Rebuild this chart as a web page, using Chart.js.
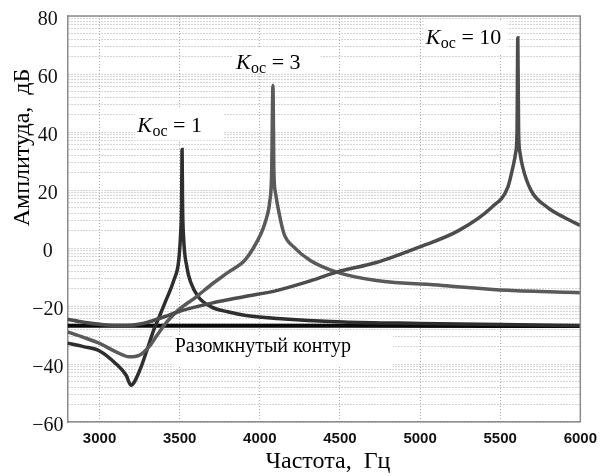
<!DOCTYPE html>
<html>
<head>
<meta charset="utf-8">
<script src="https://cdn.jsdelivr.net/npm/chart.js@4.4.1/dist/chart.umd.min.js"></script>
<style>
html,body{margin:0;padding:0;background:#fff;}
canvas{display:block;}
</style>
</head>
<body>
<canvas id="c" width="605" height="476"></canvas>
<script>
// ---------------- data ----------------
const openLoopFreq = [2800, 3500, 4500, 6000];
const openLoopAmp  = [-26.8, -26.8, -26.8, -26.9];

const k1Freq = [2800, 2900, 3000, 3100, 3165, 3196, 3247, 3309, 3340, 3370, 3411, 3463, 3494, 3506, 3512, 3515, 3518, 3524, 3545, 3570, 3617, 3697, 3800, 3905, 4110, 4521, 5000, 5500, 6000];
const k1Amp  = [-32.8, -34.0, -35.5, -39.8, -43.8, -47.3, -42.7, -33.0, -28.0, -24.0, -18.5, -11.2, -4.3, 5.0, 15.0, 34.0, 15.0, 4.0, -6.6, -12.0, -16.9, -20.3, -22.0, -23.2, -24.3, -25.5, -26.0, -26.4, -26.7];

const k3Freq = [2800, 2900, 3000, 3103, 3185, 3247, 3309, 3360, 3420, 3500, 3600, 3700, 3800, 3905, 3960, 4007, 4040, 4062, 4074, 4082, 4088, 4098, 4115, 4151, 4213, 4315, 4480, 4727, 5138, 5547, 6000];
const k3Amp  = [-28.9, -30.8, -32.9, -35.8, -37.5, -37.0, -34.0, -30.0, -25.5, -21.0, -17.0, -12.5, -8.5, -4.3, 0.0, 4.9, 10.0, 16.0, 26.0, 56.0, 26.0, 19.0, 13.5, 4.9, 0.3, -4.3, -8.3, -11.2, -12.9, -14.6, -15.4];

const k10Freq = [2800, 2900, 3000, 3100, 3200, 3300, 3400, 3500, 3700, 3900, 4110, 4300, 4480, 4727, 4994, 5240, 5446, 5548, 5579, 5597, 5605, 5610, 5615, 5623, 5641, 5693, 5795, 5900, 6000];
const k10Amp  = [-24.6, -25.6, -26.3, -26.7, -26.6, -25.6, -23.8, -21.8, -19.0, -16.8, -14.6, -11.6, -8.3, -5.0, 0.3, 6.0, 14.0, 21.0, 27.8, 33.0, 40.0, 72.5, 40.0, 33.0, 27.8, 19.8, 14.0, 10.5, 7.8];

const gainValues   = ['1', '3', '10'];
const xTickValues  = [3000, 3500, 4000, 4500, 5000, 5500, 6000];
const yMajorTicks  = [-60, -40, -20, 0, 20, 40, 60, 80];

// ---------------- helpers ----------------
function pts(xs, ys){ return xs.map((x,i)=>({x:x, y:ys[i]})); }

const yAllTicks = [];
for (let i = 0; i < yMajorTicks.length; i++) {
  const m = yMajorTicks[i];
  yAllTicks.push({value:m, major:true});
  if (i < yMajorTicks.length - 1) {
    const step = yMajorTicks[i+1] - m;
    for (let k = 2; k <= 9; k++) yAllTicks.push({value: m + step*Math.log10(k), major:false});
  }
}
function fmtY(v){ return v < 0 ? '\u2212' + Math.abs(v) : String(v); }

const SERIF = '"Liberation Serif"';
const SANS = '"Liberation Sans"';

const gainLabelCfg = [
  {f:3235, a:40.0, box:{l:2, r:21, t:24.7, b:8.3}},
  {f:3851, a:61.8, box:{l:3, r:20, t:20, b:4}},
  {f:5035, a:70.5, box:{l:2, r:6, t:22.7, b:10.3}}
];
const openLabelCfg = {f:3469, a:-35.8, box:{l:1, r:42, t:16.7, b:15.3}, text:'Разомкнутый контур'};

const overlayPlugin = {
  id:'overlay',
  afterDraw(chart){
    const {ctx, chartArea:a, scales:{x, y}} = chart;
    ctx.save();
    ctx.strokeStyle = '#8c8c8c';
    ctx.lineWidth = 1.5;
    ctx.setLineDash([]);
    ctx.beginPath();
    ctx.moveTo(a.left, a.top); ctx.lineTo(a.right, a.top); ctx.lineTo(a.right, a.bottom);
    ctx.stroke();

    ctx.textAlign = 'left';
    ctx.textBaseline = 'alphabetic';
    gainLabelCfg.forEach((c, i) => {
      const px = x.getPixelForValue(c.f), py = y.getPixelForValue(c.a);
      ctx.font = 'italic 22px ' + SERIF; const wK = ctx.measureText('K').width + 0.5;
      ctx.font = '16px ' + SERIF; const wS = ctx.measureText('oc').width;
      const rest = ' = ' + gainValues[i];
      ctx.font = '22px ' + SERIF; const wR = ctx.measureText(rest).width;
      ctx.fillStyle = '#fff';
      ctx.fillRect(px - c.box.l, py - c.box.t, wK + wS + wR + c.box.l + c.box.r, c.box.t + c.box.b);
      ctx.fillStyle = '#000';
      ctx.font = 'italic 22px ' + SERIF; ctx.fillText('K', px, py);
      ctx.font = '16px ' + SERIF; ctx.fillText('oc', px + wK, py + 4);
      ctx.font = '22px ' + SERIF; ctx.fillText(rest, px + wK + wS, py);
    });
    {
      const c = openLabelCfg;
      const px = x.getPixelForValue(c.f), py = y.getPixelForValue(c.a);
      ctx.font = '20px ' + SERIF;
      const w = ctx.measureText(c.text).width;
      ctx.fillStyle = '#fff';
      ctx.fillRect(px - c.box.l, py - c.box.t, w + c.box.l + c.box.r, c.box.t + c.box.b);
      ctx.fillStyle = '#000';
      ctx.fillText(c.text, px, py);
    }
    ctx.fillStyle = '#000';
    ctx.font = '24px ' + SERIF;
    ctx.textAlign = 'center';
    ctx.fillText('Частота,  Гц', (a.left + a.right)/2 + 4, 468);
    ctx.translate(23, 147.5);
    ctx.rotate(-Math.PI/2);
    ctx.textBaseline = 'middle';
    ctx.fillText('Амплитуда,  дБ', 0, 0);
    ctx.restore();
  }
};

const lineStyle = (color, width) => ({
  borderColor: color, backgroundColor: color, borderWidth: width,
  pointRadius: 0, pointHoverRadius: 0, fill: false, cubicInterpolationMode: 'monotone'
});

new Chart(document.getElementById('c'), {
  type: 'line',
  data: {
    datasets: [
      Object.assign({label:'K=10', data: pts(k10Freq, k10Amp)}, lineStyle('#4c4c4c', 3.5)),
      Object.assign({label:'K=3',  data: pts(k3Freq, k3Amp)},  lineStyle('#5a5a5a', 3.5)),
      Object.assign({label:'K=1',  data: pts(k1Freq, k1Amp)},  lineStyle('#2e2e2e', 3.5)),
      Object.assign({label:'open', data: pts(openLoopFreq, openLoopAmp)}, lineStyle('#0a0a0a', 4))
    ]
  },
  options: {
    responsive: false,
    devicePixelRatio: 1,
    animation: false,
    layout: {padding: {left: 0, right: 18, top: 15, bottom: 0}},
    plugins: {legend: {display: false}, tooltip: {enabled: false}},
    scales: {
      x: {
        type: 'linear', min: 2800, max: 6000,
        afterBuildTicks: s => { s.ticks = xTickValues.map(v => ({value: v})); },
        afterFit: s => { s.height = 54; },
        ticks: {color: '#111', font: {family: SANS, size: 15, weight: 'bold'}, padding: 8, maxRotation: 0, autoSkip: false,
                callback: v => String(v)},
        grid: {color: '#ababab', lineWidth: 1, drawTicks: false},
        border: {display: true, color: '#8c8c8c', width: 1.5, dash: [1, 2]}
      },
      y: {
        type: 'linear', min: -60, max: 80,
        afterBuildTicks: s => { s.ticks = yAllTicks.map(t => ({value: t.value})); },
        afterFit: s => { s.width = 67.5; },
        ticks: {
          color: '#111', font: {family: SERIF, size: 20}, padding: 4, autoSkip: false,
          crossAlign: 'center', labelOffset: 4,
          callback: v => yMajorTicks.includes(v) ? fmtY(v) : ''
        },
        grid: {color: '#ababab', lineWidth: 1, drawTicks: false},
        border: {display: true, color: '#8c8c8c', width: 1.5, dash: [1, 2]}
      }
    }
  },
  plugins: [overlayPlugin]
});
</script>
</body>
</html>
